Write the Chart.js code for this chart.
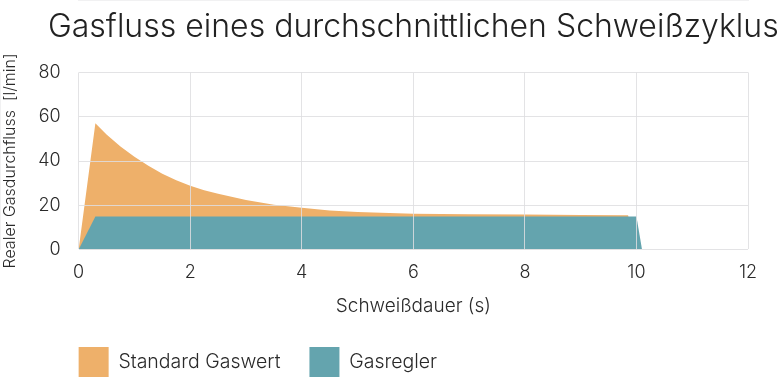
<!DOCTYPE html>
<html>
<head>
<meta charset="utf-8">
<script src="https://cdn.jsdelivr.net/npm/chart.js@4"></script>
<style>
  html, body { margin: 0; padding: 0; background: #fff; }
</style>
</head>
<body>
<canvas id="chart" width="782" height="378"></canvas>
<script>
// Data
const seriesNames = ["Standard Gaswert", "Gasregler"];
const standardTime = [0, 0.3, 0.5, 0.75, 1.0, 1.25, 1.5, 1.75, 2.0, 2.25, 2.5, 3.0, 3.5, 4.0, 4.5, 5.0, 6.0, 7.0, 8.0, 9.0, 9.85, 10.0];
const standardFlow = [0, 57, 52, 46.6, 41.9, 37.8, 34.3, 31.3, 28.8, 26.8, 25.2, 22.4, 20.3, 18.9, 17.7, 17, 16.2, 16, 15.8, 15.6, 15.5, 0];
const reglerTime = [0, 0.3, 10.0, 10.1];
const reglerFlow = [0, 15, 15, 0];
const xTicks = [0, 2, 4, 6, 8, 10, 12];
const yTicks = [0, 20, 40, 60, 80];

const orange = "rgb(238, 176, 106)";
const teal = "rgb(100, 164, 174)";
const textColor = "#2a2a2a";
const gridColor = "rgba(222, 222, 224, 0.85)";
const fontFamily = "Inter, 'Noto Sans', sans-serif";

const toPoints = (xs, ys) => xs.map((x, i) => ({ x: x, y: ys[i] }));

// centre the title over the plot area and start the legend at the plot's left edge
const alignToPlot = {
    id: "alignToPlot",
    afterLayout(chart) {
        const area = chart.chartArea;
        const cx = (area.left + area.right) / 2;
        if (chart.titleBlock) {
            chart.titleBlock.left = cx - chart.width / 2;
            chart.titleBlock.right = cx + chart.width / 2;
        }
        if (chart.legend) {
            chart.legend.left = area.left - chart.legend.options.labels.padding;
        }
    }
};

new Chart(document.getElementById("chart"), {
    type: "line",
    data: {
        datasets: [
            {
                label: seriesNames[0],
                data: toPoints(standardTime, standardFlow),
                backgroundColor: orange,
                borderColor: orange,
                borderWidth: 0,
                pointRadius: 0,
                fill: "origin",
                tension: 0,
                order: 1
            },
            {
                label: seriesNames[1],
                data: toPoints(reglerTime, reglerFlow),
                backgroundColor: teal,
                borderColor: teal,
                borderWidth: 0,
                pointRadius: 0,
                fill: "origin",
                tension: 0,
                order: 0
            }
        ]
    },
    options: {
        responsive: false,
        animation: false,
        layout: { padding: { left: 1, right: 34, top: 4, bottom: 0 } },
        scales: {
            x: {
                type: "linear",
                min: xTicks[0],
                max: xTicks[xTicks.length - 1],
                afterBuildTicks: axis => { axis.ticks = xTicks.map(v => ({ value: v })); },
                grid: { color: gridColor, drawTicks: false, z: 1 },
                border: { color: gridColor },
                ticks: { color: textColor, padding: 12, font: { family: fontFamily, size: 18, weight: 300 } },
                title: {
                    display: true,
                    text: "Schweißdauer (s)",
                    color: textColor,
                    font: { family: fontFamily, size: 19, weight: 300 },
                    padding: { top: 0, bottom: 0 }
                }
            },
            y: {
                min: yTicks[0],
                max: yTicks[yTicks.length - 1],
                afterBuildTicks: axis => { axis.ticks = yTicks.map(v => ({ value: v })); },
                grid: { color: gridColor, drawTicks: false, z: 1 },
                border: { color: gridColor },
                ticks: { color: textColor, padding: 18, font: { family: fontFamily, size: 18, weight: 300 } },
                title: {
                    display: true,
                    text: "Realer Gasdurchfluss  [l/min]",
                    color: textColor,
                    font: { family: fontFamily, size: 16, weight: 300 },
                    padding: { top: 0, bottom: 0 }
                }
            }
        },
        plugins: {
            title: {
                display: true,
                text: "Gasfluss eines durchschnittlichen Schweißzyklus",
                color: "#222",
                font: { family: fontFamily, size: 32, weight: 300 },
                padding: { top: 4, bottom: 26 }
            },
            legend: {
                position: "bottom",
                align: "start",
                maxHeight: 60,
                labels: {
                    boxWidth: 30,
                    boxHeight: 30,
                    padding: 29,
                    color: textColor,
                    font: { family: fontFamily, size: 19.5, weight: 300 },
                    sort: (a, b) => a.datasetIndex - b.datasetIndex
                }
            },
            tooltip: { enabled: false }
        }
    },
    plugins: [alignToPlot]
});
</script>
</body>
</html>
